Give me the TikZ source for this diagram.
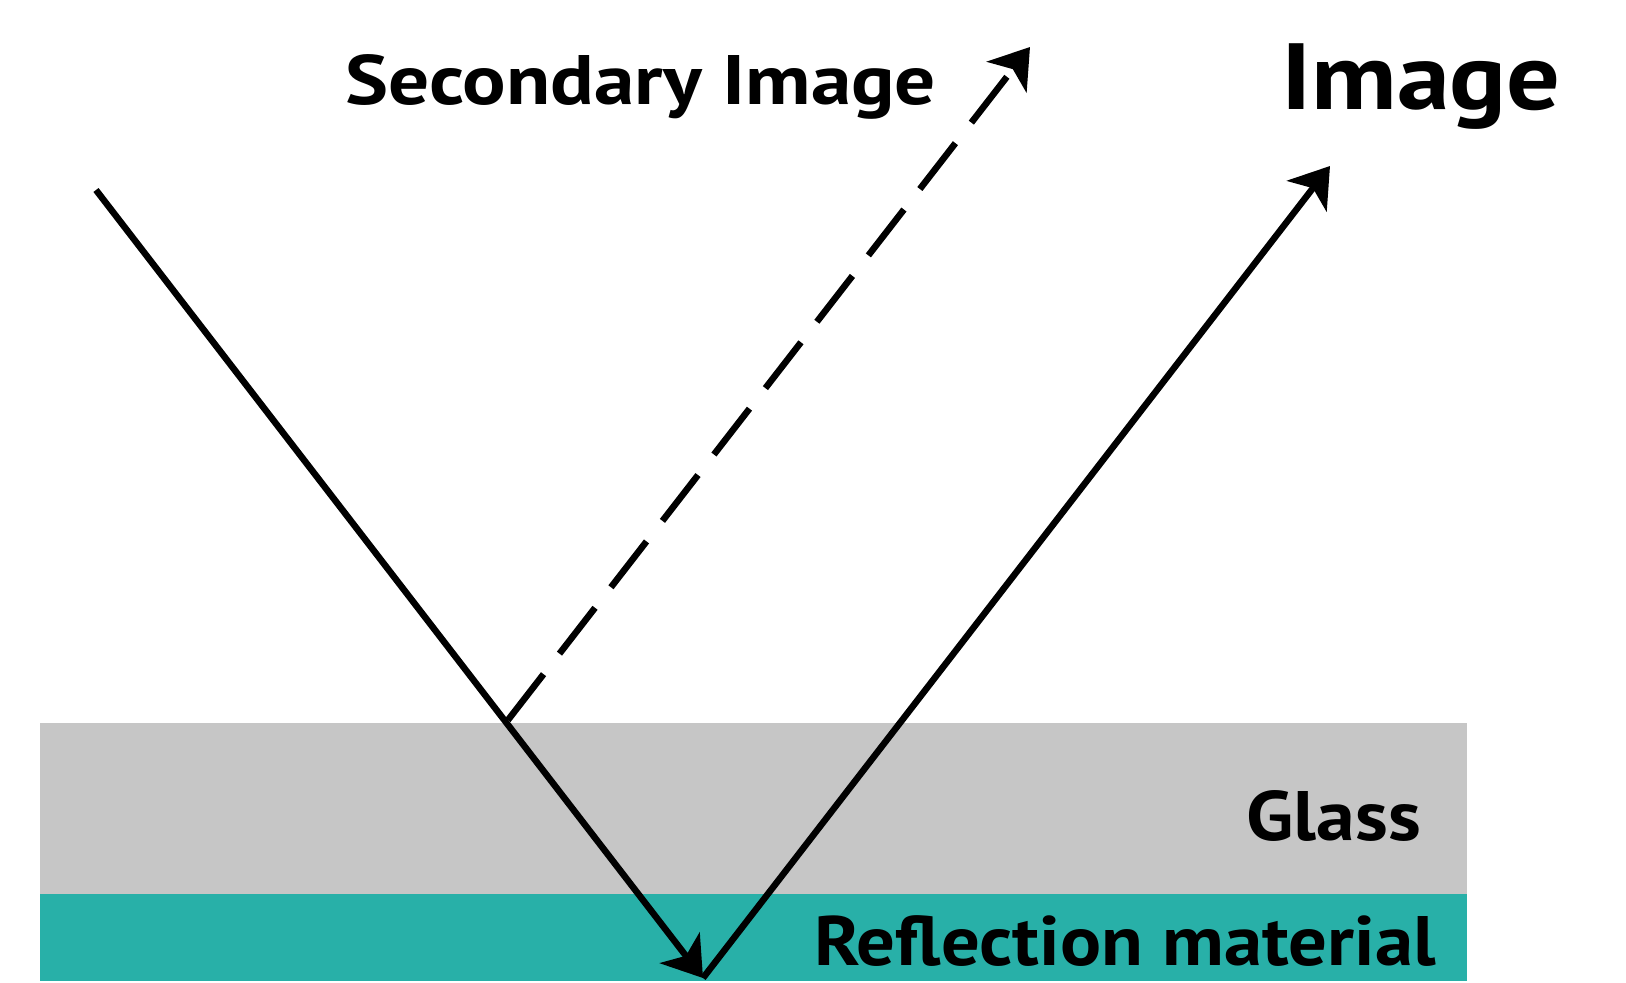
\documentclass[tikz,border=0pt]{standalone}
\usepackage{fontspec}
\setmainfont{PT Sans}
\usetikzlibrary{arrows.meta}
\definecolor{glassgray}{RGB}{198,198,198}
\definecolor{reflteal}{RGB}{40,176,168}
\begin{document}
\begin{tikzpicture}[x=1pt,y=-1pt,
  ray/.style={line width=6.5pt,-{Stealth[length=38pt,width=50pt,inset=10pt]}},
  lbl/.style={inner sep=0pt,anchor=base west,font=\bfseries\fontsize{70}{80}\selectfont},
  biglbl/.style={inner sep=0pt,anchor=base west,font=\bfseries\fontsize{94}{100}\selectfont}]
\useasboundingbox (0,0) rectangle (1626,983);
\fill[glassgray] (40,723) rectangle (1467,894);
\fill[reflteal] (40,894) rectangle (1467,981);
\coordinate (src) at (96,190);
\coordinate (apex) at (703,978);
\coordinate (hit) at (508,720);
\coordinate (sec) at (1030,47);
\coordinate (img) at (1330,166);
\draw[ray] (src) -- (apex);
\draw[ray] (apex) -- (img);
\draw[ray,dash pattern=on 58pt off 26pt] (hit) -- (sec);
\node[lbl,xscale=1.16] (secl) at (345,104) {Secondary Image};
\node[biglbl,xscale=1.13] (imgl) at (1281,109) {Image};
\node[lbl,anchor=base east,xscale=1.11] (glassl) at (1421,840) {Glass};
\node[lbl,anchor=base east,xscale=1.095] (refl) at (1436,965) {Reflection material};
\end{tikzpicture}
\end{document}
